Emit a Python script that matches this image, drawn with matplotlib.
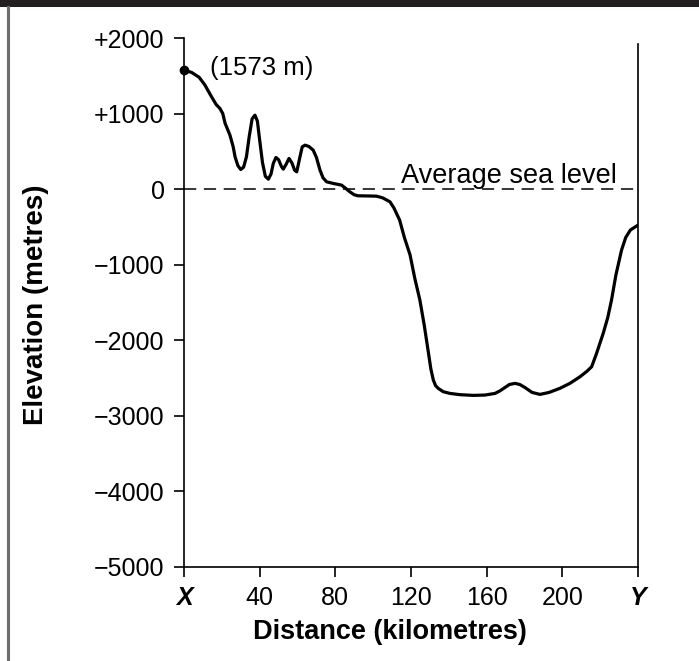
import matplotlib
matplotlib.use("Agg")
import matplotlib.pyplot as plt
from matplotlib.lines import Line2D
from matplotlib.patches import Rectangle

plt.rcParams['font.family'] = ['Liberation Sans', 'DejaVu Sans']

# Profile data (distance km, elevation m)
distance_km = [0, 4, 8, 11, 14.6, 17, 19, 20.5, 21.7, 24.3, 26, 27, 28.5, 30, 31.5, 33,
               34.5, 36, 37.5, 38.8, 40, 41.5, 43, 44.6, 46, 47.2, 48.6, 50, 51.5, 52.5,
               54, 55.5, 57, 58.5, 59.6, 61.3, 62.5, 64, 66, 68.3, 70, 71.9, 73.5, 75.4,
               79, 83.3, 85.5, 87.7, 90, 92, 97, 101.8, 105, 108.9, 111, 114, 116.5,
               119.5, 122, 124.7, 127, 129, 130.5, 131.8, 133, 134.4, 137, 140.6, 146,
               152.9, 159, 164.4, 167, 169.7, 172, 175, 177.5, 180.2, 184, 188.2, 193,
               198.7, 204, 209.3, 213, 215.5, 218, 221.6, 224, 226, 228.3, 231.3, 233.5,
               236, 240]
elevation_m = [1573, 1545, 1480, 1380, 1220, 1120, 1067, 1000, 873, 714, 560, 427, 310, 260,
               290, 427, 700, 930, 979, 900, 648, 350, 170, 132, 200, 340, 419, 390, 300,
               265, 330, 406, 350, 250, 229, 427, 560, 582, 565, 516, 420, 251, 150, 97,
               75, 53, 10, -36, -75, -88, -90, -93, -115, -168, -250, -410, -640, -870,
               -1180, -1468, -1800, -2130, -2380, -2526, -2600, -2636, -2680, -2703, -2720,
               -2729, -2725, -2703, -2670, -2624, -2585, -2570, -2585, -2624, -2690, -2716,
               -2690, -2636, -2570, -2483, -2410, -2350, -2180, -1909, -1700, -1468, -1138,
               -807, -640, -540, -476]

x_ticks = [0, 40, 80, 120, 160, 200, 240]
x_tick_labels = ['X', '40', '80', '120', '160', '200', 'Y']
y_ticks = [2000, 1000, 0, -1000, -2000, -3000, -4000, -5000]
y_tick_labels = ['+2000', '+1000', '0', '\u22121000', '\u22122000', '\u22123000',
                 '\u22124000', '\u22125000']
peak_label = '(1573 m)'
sea_label = 'Average sea level'

W, H = 699, 661
fig = plt.figure(figsize=(W / 100, H / 100), dpi=100)

# decorative frame: top dark band and left gray rule
fig.patches.append(Rectangle((0, 1 - 7 / H), 1, 7 / H, transform=fig.transFigure,
                             facecolor='#231f20', edgecolor='none'))
fig.add_artist(Line2D([7.5 / W, 7.5 / W], [0, 1 - 7 / H], transform=fig.transFigure,
                      color='#6d6d6d', lw=2.2))

ax = fig.add_axes([184 / W, 1 - 567 / H, (638 - 184) / W, (567 - 38) / H])
ax.set_xlim(0, 240)
ax.set_ylim(-5000, 2000)

ax.plot(distance_km, elevation_m, color='black', lw=2.3, solid_capstyle='round',
        solid_joinstyle='round')
ax.plot([distance_km[0]], [elevation_m[0]], 'o', color='black', ms=6, clip_on=False,
        zorder=5)
ax.axhline(0, color='black', lw=1.1, linestyle=(0, (8, 5)))

ax.text(14, 1600, peak_label, fontsize=18.5, ha='left', va='center')
ax.text(172, 80, sea_label, fontsize=19.5, ha='center', va='baseline')

ax.spines['top'].set_visible(False)
ax.spines['right'].set_bounds(-5000, 1920)
for s in ['left', 'right', 'bottom']:
    ax.spines[s].set_linewidth(1.2)

ax.set_xticks(x_ticks)
ax.set_xticklabels(x_tick_labels)
ax.set_yticks(y_ticks)
ax.set_yticklabels(y_tick_labels)
ax.tick_params(axis='both', direction='out', length=7, width=1.2, labelsize=18,
               pad=7)
for lbl in ax.get_xticklabels():
    if lbl.get_text() in ('X', 'Y'):
        lbl.set_fontweight('bold')
        lbl.set_fontstyle('italic')

fig.text(390 / W, 1 - 632 / H, 'Distance (kilometres)', fontsize=19.5,
         fontweight='bold', ha='center', va='center')
fig.text(36 / W, 1 - 305 / H, 'Elevation (metres)', fontsize=20,
         fontweight='bold', ha='center', va='center', rotation=90)

fig.savefig('out.png', dpi=100)
